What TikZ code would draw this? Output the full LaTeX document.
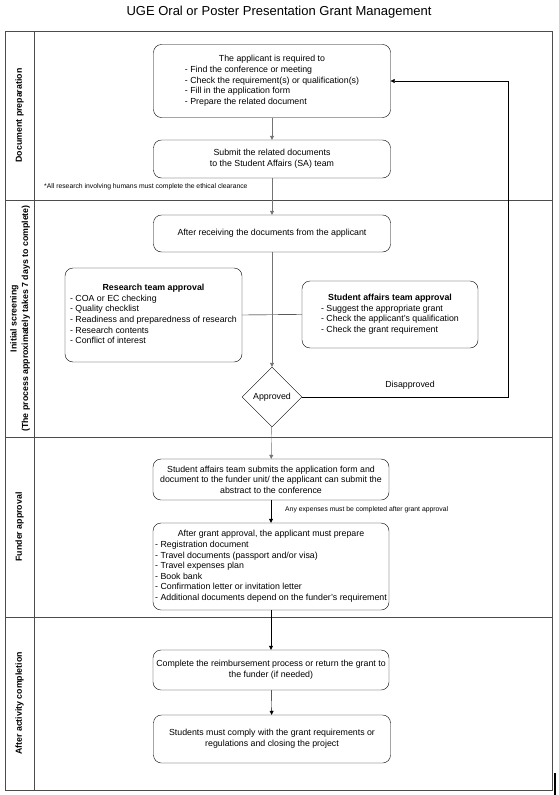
\documentclass[tikz,border=0pt]{standalone}
\usepackage{fontspec}
\setmainfont{Liberation Sans}
\usetikzlibrary{shapes.geometric,arrows.meta}
\begin{document}
\begin{tikzpicture}[x=1pt,y=-1pt,
  box/.style={draw, rounded corners=8pt, inner sep=1pt, font=\fontsize{8.8}{10.6}\selectfont, align=center},
  arr/.style={-{Triangle[length=4pt,width=4pt]}},
  garr/.style={arr, draw=black!55},
  lane/.style={rotate=90, font=\bfseries\fontsize{8.8}{11.5}\selectfont, align=center},
  note/.style={font=\fontsize{6.8}{8}\selectfont, inner sep=0pt},
  frameline/.style={draw=black!70, line width=0.7pt}]
\useasboundingbox (0,0) rectangle (559,795);
% title
\node[font=\fontsize{13}{15}\selectfont] (title) at (279,12) {UGE Oral or Poster Presentation Grant Management};
% frame and lanes
\draw[frameline] (5,31) rectangle (552,790);
\draw[frameline] (34,31) -- (34,790);
\draw[frameline] (5,200) -- (552,200);
\draw[frameline] (5,437) -- (552,437);
\draw[frameline] (5,617) -- (552,617);
\draw[line width=2pt] (555,773) -- (555,795);
\node[lane] (l1) at (19.5,115.5) {Document preparation};
\node[lane] (l2) at (20,318.5) {Initial screening\\(The process approximately takes 7 days to complete)};
\node[lane] (l3) at (19.5,527) {Funder approval};
\node[lane] (l4) at (19.5,703.5) {After activity completion};
% boxes
\node[box, minimum width=237, minimum height=73] (b1) at (272,81) {\begin{tabular}{@{}l@{}}\multicolumn{1}{@{}c@{}}{The applicant is required to}\\
- Find the conference or meeting\\
- Check the requirement(s) or qualification(s)\\
- Fill in the application form\\
- Prepare the related document\end{tabular}};
\node[box, minimum width=237, minimum height=38] (b2) at (272,159) {Submit the related documents\\to the Student Affairs (SA) team};
\node[note, anchor=west] (n1) at (44,187) {*All research involving humans must complete the ethical clearance};
\node[box, minimum width=237, minimum height=37] (b3) at (272,233.5) {After receiving the documents from the applicant};
\node[box, minimum width=177, minimum height=94] (rt) at (153.5,315) {\begin{tabular}{@{}l@{}}\multicolumn{1}{@{}c@{}}{\bfseries Research team approval}\\
- COA or EC checking\\
- Quality checklist\\
- Readiness and preparedness of research\\
- Research contents\\
- Conflict of interest\end{tabular}};
\node[box, minimum width=176, minimum height=67] (sa) at (390,314.5) {\begin{tabular}{@{}l@{}}\multicolumn{1}{@{}c@{}}{\bfseries Student affairs team approval}\\
- Suggest the appropriate grant\\
- Check the applicant's qualification\\
- Check the grant requirement\end{tabular}};
\node[draw, diamond, aspect=1, minimum size=60, inner sep=0pt, font=\fontsize{8.8}{11}\selectfont] (d) at (272,397) {Approved};
\node[box, minimum width=236, minimum height=41] (b4) at (271,479.5) {Student affairs team submits the application form and\\document to the funder unit/ the applicant can submit the\\abstract to the conference};
\node[note, anchor=west] (n2) at (285,510) {Any expenses must be completed after grant approval};
\node[box, minimum width=236, minimum height=87, inner sep=0.5pt] (b5) at (271,566.5) {\begin{tabular}{@{}l@{}}\multicolumn{1}{@{}c@{}}{After grant approval, the applicant must prepare}\\
- Registration document\\
- Travel documents (passport and/or visa)\\
- Travel expenses plan\\
- Book bank\\
- Confirmation letter or invitation letter\\
- Additional documents depend on the funder's requirement\end{tabular}};
\node[box, minimum width=236, minimum height=40] (b6) at (271,670) {Complete the reimbursement process or return the grant to\\the funder (if needed)};
\node[box, minimum width=237, minimum height=48] (b7) at (272,739) {Students must comply with the grant requirements or\\regulations and closing the project};
% connectors
\coordinate (c1) at (508,397);
\coordinate (c2) at (508,81);
\draw[garr] (b1) -- (b2);
\draw[garr] (b2) -- (b3);
\draw[draw=black] (rt.east) -- (sa.west);
\draw[garr] (b3) -- (d);
\draw[arr] (d.east) -- (c1) -- (c2) -- (b1.east);
\node[font=\fontsize{8.8}{11}\selectfont] (dl) at (410,385) {Disapproved};
\draw[garr] (d) -- (b4);
\draw[arr] (b4) -- (b5);
\draw[arr] (b5) -- (b6);
\draw[arr] (b6) -- (b7);
\end{tikzpicture}
\end{document}
